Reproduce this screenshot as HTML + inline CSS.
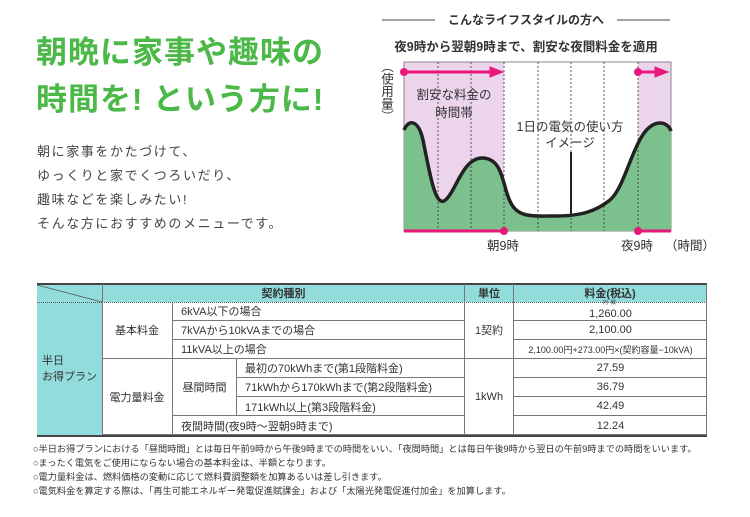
<!DOCTYPE html>
<html><head><meta charset="utf-8"><style>
body{margin:0;width:750px;height:517px;background:#fff;position:relative;overflow:hidden;font-family:"Liberation Sans","Noto Sans CJK JP",sans-serif;color:#333}
.a{position:absolute;white-space:nowrap}
.t{font-size:31px;font-weight:bold;color:#4cb848;left:36px;letter-spacing:1px}
.b{font-size:13px;left:37px;letter-spacing:1.6px;color:#444}
.n{font-size:9.2px;left:33px;color:#333}
.c{position:absolute;box-sizing:border-box;display:flex;align-items:center;font-size:11px;color:#333}
.cc{justify-content:center}.cl{padding-left:8px}
.tl{background:#92dcdc}
</style></head><body>
<div class="a t" style="top:27px">朝晩に家事や趣味の</div>
<div class="a t" style="top:74px">時間を! という方に!</div>
<div class="a b" style="top:141px">朝に家事をかたづけて、</div>
<div class="a b" style="top:165px">ゆっくりと家でくつろいだり、</div>
<div class="a b" style="top:189px">趣味などを楽しみたい!</div>
<div class="a b" style="top:213px">そんな方におすすめのメニューです。</div>

<svg class="a" style="left:0;top:0" width="750" height="280">
<line x1="382" y1="20" x2="435" y2="20" stroke="#444" stroke-width="1"/>
<line x1="617" y1="20" x2="670" y2="20" stroke="#444" stroke-width="1"/>
<text x="526" y="24" font-size="12" font-weight="bold" text-anchor="middle" fill="#333" font-family="Liberation Sans,Noto Sans CJK JP,sans-serif">こんなライフスタイルの方へ</text>
<text x="526" y="51" font-size="12.5" font-weight="bold" text-anchor="middle" fill="#333" font-family="Liberation Sans,Noto Sans CJK JP,sans-serif">夜9時から翌朝9時まで、割安な夜間料金を適用</text>
<rect x="404" y="62" width="100" height="169" fill="#ecd4ec"/>
<rect x="638" y="62" width="33" height="169" fill="#ecd4ec"/>
<rect x="404" y="62" width="267" height="169" fill="none" stroke="#888" stroke-width="1"/>
<path d="M404,130 C408,120 418,118 423,140 C430,175 435,205 444,201 C455,195 462,158 482,158 C505,158 502,190 512,205 C520,218 535,216 555,216 C580,216 595,212 610,200 C628,185 635,123 660,123 C667,123 670,128 671,131 L671,231 L404,231 Z" fill="#7cc08e"/>
<g stroke="#333" stroke-dasharray="2,2" stroke-width="0.8">
<line x1="438" y1="62" x2="438" y2="231"/><line x1="471" y1="62" x2="471" y2="231"/><line x1="504" y1="62" x2="504" y2="231"/><line x1="538" y1="62" x2="538" y2="231"/><line x1="571" y1="62" x2="571" y2="231"/><line x1="604" y1="62" x2="604" y2="231"/><line x1="638" y1="62" x2="638" y2="231"/>
</g>
<path d="M404,130 C408,120 418,118 423,140 C430,175 435,205 444,201 C455,195 462,158 482,158 C505,158 502,190 512,205 C520,218 535,216 555,216 C580,216 595,212 610,200 C628,185 635,123 660,123 C667,123 670,128 671,131" fill="none" stroke="#222" stroke-width="3.5"/>
<line x1="571" y1="152" x2="571" y2="216" stroke="#222" stroke-width="2"/>
<g fill="#e8187a" stroke="#e8187a">
<line x1="404" y1="72" x2="492" y2="72" stroke-width="3"/><polygon points="490,67 503,72 490,77"/><circle cx="404" cy="72" r="3.5"/>
<line x1="638" y1="72" x2="657" y2="72" stroke-width="3"/><polygon points="655,67 668,72 655,77"/><circle cx="638" cy="72" r="3.5"/>
<line x1="404" y1="231" x2="504" y2="231" stroke-width="3"/><circle cx="504" cy="231" r="3.5"/>
<line x1="638" y1="231" x2="671" y2="231" stroke-width="3"/><circle cx="638" cy="231" r="3.5"/>
</g>
<g font-size="12.5" fill="#333" font-family="Liberation Sans,Noto Sans CJK JP,sans-serif" text-anchor="middle">
<text x="454" y="99">割安な料金の</text><text x="454" y="117">時間帯</text>
<text x="570" y="131">1日の電気の使い方</text><text x="570" y="147">イメージ</text>
<text x="503" y="250">朝9時</text><text x="637" y="250">夜9時</text><text x="690" y="250">（時間）</text>
</g>
</svg>
<div class="a" style="left:379px;top:60px;writing-mode:vertical-rl;font-size:12.5px;line-height:14px;color:#333">（使用量）</div>

<div class="c tl" style="left:37px;top:283px;width:670px;height:19px;border-top:2px solid #444"></div>
<svg class="a" style="left:37px;top:283px" width="66" height="20"><line x1="0" y1="2" x2="65" y2="19" stroke="#555" stroke-width="0.8"/></svg>
<div class="c cc" style="left:102px;top:284px;width:362px;height:18px;font-weight:bold;border-left:1px solid #777">契約種別</div>
<div class="c cc" style="left:464px;top:284px;width:49px;height:18px;font-weight:bold;border-left:1px solid #777">単位</div>
<div class="c cc" style="left:513px;top:284px;width:194px;height:18px;font-weight:bold;border-left:1px solid #777;border-right:1px solid #777">料金(税込)</div>
<div class="c cc tl" style="left:37px;top:302px;width:65px;height:133px;flex-direction:column;line-height:16px;border-top:1px dotted #555">半日<br>お得プラン</div>
<div style="position:absolute;left:102px;top:302px;width:605px;height:133px;border:1px solid #777;border-top:1px dotted #555;box-sizing:border-box"></div>
<div class="c cc" style="left:102px;top:302px;width:71px;height:57px;border-right:1px solid #777;border-bottom:1px solid #777">基本料金</div>
<div class="c cc" style="left:102px;top:359px;width:71px;height:76px;border-right:1px solid #777">電力量料金</div>
<div class="c cl" style="left:173px;top:302px;width:291px;height:19px;border-bottom:1px solid #777">6kVA以下の場合</div>
<div class="c cl" style="left:173px;top:321px;width:291px;height:19px;border-bottom:1px solid #777">7kVAから10kVAまでの場合</div>
<div class="c cl" style="left:173px;top:340px;width:291px;height:19px;border-bottom:1px solid #777">11kVA以上の場合</div>
<div class="c cc" style="left:173px;top:359px;width:64px;height:57px;border-right:1px solid #777;border-bottom:1px solid #777">昼間時間</div>
<div class="c cl" style="left:237px;top:359px;width:227px;height:19px;border-bottom:1px solid #777">最初の70kWhまで(第1段階料金)</div>
<div class="c cl" style="left:237px;top:378px;width:227px;height:19px;border-bottom:1px solid #777">71kWhから170kWhまで(第2段階料金)</div>
<div class="c cl" style="left:237px;top:397px;width:227px;height:19px">171kWh以上(第3段階料金)</div>
<div class="c cl" style="left:173px;top:416px;width:291px;height:19px">夜間時間(夜9時～翌朝9時まで)</div>
<div class="c cc" style="left:464px;top:302px;width:49px;height:57px;border-left:1px solid #777;border-bottom:1px solid #777">1契約</div>
<div class="c cc" style="left:464px;top:359px;width:49px;height:76px;border-left:1px solid #777">1kWh</div>
<div class="c cc" style="left:513px;top:302px;width:194px;height:19px;border-left:1px solid #777;border-bottom:1px solid #777;padding-top:6px">1,260.00</div>
<div class="a" style="left:603px;top:300px;font-size:5px;line-height:6px">円&nbsp;&nbsp;銭</div>
<div class="c cc" style="left:513px;top:321px;width:194px;height:19px;border-left:1px solid #777;border-bottom:1px solid #777">2,100.00</div>
<div class="c cc" style="left:513px;top:340px;width:194px;height:19px;border-left:1px solid #777;border-bottom:1px solid #777;font-size:9px">2,100.00円+273.00円×(契約容量−10kVA)</div>
<div class="c cc" style="left:513px;top:359px;width:194px;height:19px;border-left:1px solid #777;border-bottom:1px solid #777">27.59</div>
<div class="c cc" style="left:513px;top:378px;width:194px;height:19px;border-left:1px solid #777;border-bottom:1px solid #777">36.79</div>
<div class="c cc" style="left:513px;top:397px;width:194px;height:19px;border-left:1px solid #777;border-bottom:1px solid #777">42.49</div>
<div class="c cc" style="left:513px;top:416px;width:194px;height:19px;border-left:1px solid #777">12.24</div>
<div style="position:absolute;left:37px;top:435px;width:670px;height:2px;background:#444"></div>
<div style="position:absolute;left:173px;top:415px;width:291px;height:1px;background:#777"></div>

<div class="a n" style="top:441px">○半日お得プランにおける「昼間時間」とは毎日午前9時から午後9時までの時間をいい、「夜間時間」とは毎日午後9時から翌日の午前9時までの時間をいいます。</div>
<div class="a n" style="top:455px">○まったく電気をご使用にならない場合の基本料金は、半額となります。</div>
<div class="a n" style="top:469px">○電力量料金は、燃料価格の変動に応じて燃料費調整額を加算あるいは差し引きます。</div>
<div class="a n" style="top:483px">○電気料金を算定する際は、「再生可能エネルギー発電促進賦課金」および「太陽光発電促進付加金」を加算します。</div>
</body></html>
